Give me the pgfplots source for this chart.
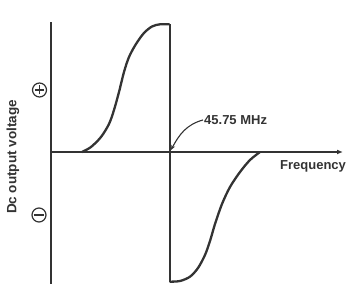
\documentclass[border=0pt]{standalone}
\usepackage{pgfplots}
\pgfplotsset{compat=1.18}
\usepackage{fontspec}
\setmainfont{Liberation Sans}
\usetikzlibrary{arrows.meta}
\definecolor{ink}{HTML}{333333}
\begin{document}
\begin{tikzpicture}
\useasboundingbox (-51pt,-2pt) rectangle (300pt,284pt);
\begin{axis}[
  x=1pt, y=1pt, scale only axis,
  xmin=0, xmax=292, ymin=-132, ymax=130,
  axis lines=middle,
  xtick=\empty, ytick=\empty,
  axis line style={ink, line width=1.4pt},
  x axis line style={-{Latex[length=6pt,width=5pt]}},
  y axis line style={-},
  clip=false,
]
\addplot[ink, no marks, line width=2.3pt, line join=round, smooth] coordinates {
 (31,0) (40,5) (50,15) (58,28) (63,42) (68,60) (73,80) (78,95) (85,108) (93,119) (101,125.5) (109,127.7) (118.7,127.7)
};
\addplot[ink, no marks, line width=2.3pt] coordinates {(118.7,127.7) (118.7,-129.7)};
\addplot[ink, no marks, line width=2.3pt, line join=round, smooth] coordinates {
 (118.7,-129.7) (129,-129) (139,-124.7) (147,-116) (154,-103) (159,-89) (164,-72) (171,-52) (179,-35) (189,-20) (199,-8) (209,0)
};
\draw[ink, line width=1.1pt, -{Stealth[length=5pt,width=4pt]}] (axis cs:152,32) to[out=195,in=62] (axis cs:120,2);
\node[anchor=west, inner sep=0pt, text=ink, font=\fontsize{13}{15}\selectfont\bfseries] at (axis cs:153,32) {45.75 MHz};
\node[anchor=base west, inner sep=0pt, text=ink, font=\fontsize{13}{15}\selectfont\bfseries] at (axis cs:229,-18) {Frequency};
\node[rotate=90, inner sep=0pt, text=ink, font=\fontsize{13.5}{15}\selectfont\bfseries] at (axis cs:-38,-5) {Dc output voltage};
\node[circle, draw=ink, line width=1.2pt, minimum size=14pt, inner sep=0pt] (p) at (axis cs:-11.5,62) {};
\draw[ink, line width=1.2pt] ([xshift=-4.5pt]p.center) -- ([xshift=4.5pt]p.center) ([yshift=-4.5pt]p.center) -- ([yshift=4.5pt]p.center);
\node[circle, draw=ink, line width=1.2pt, minimum size=14pt, inner sep=0pt] (m) at (axis cs:-12,-63) {};
\draw[ink, line width=1.2pt] ([xshift=-5pt]m.center) -- ([xshift=5pt]m.center);
\end{axis}
\end{tikzpicture}
\end{document}
